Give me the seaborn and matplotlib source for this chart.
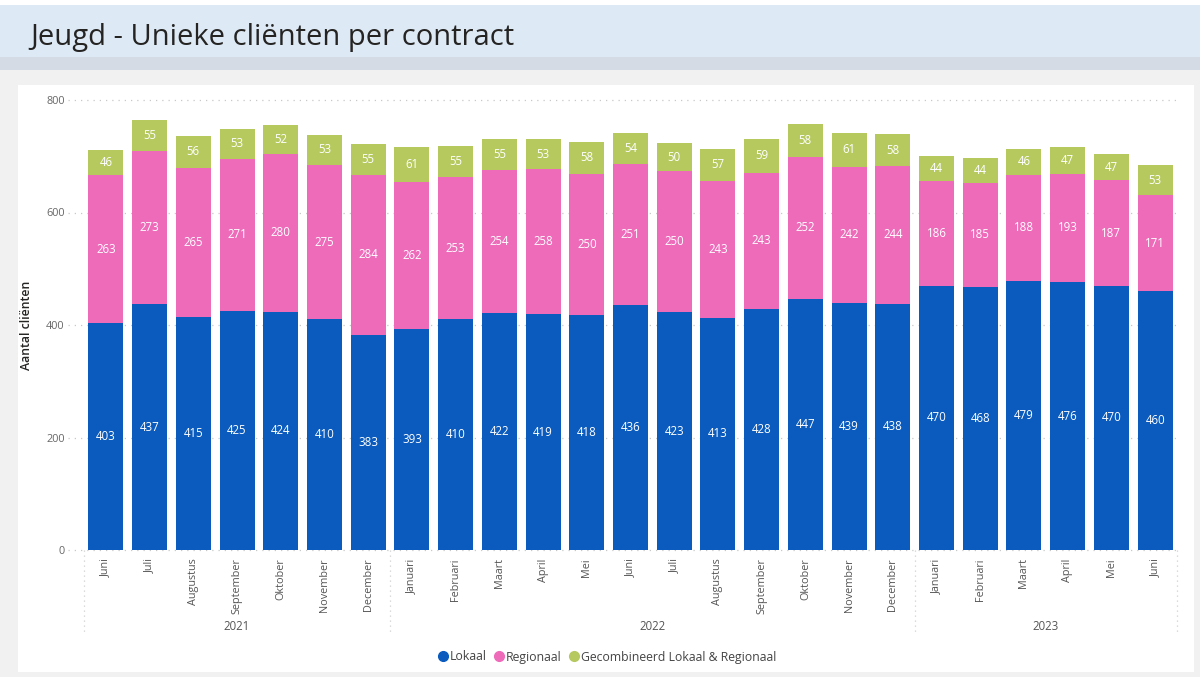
import matplotlib
matplotlib.use("Agg")
import matplotlib.pyplot as plt
import seaborn as sns
import numpy as np
import pandas as pd
from matplotlib.lines import Line2D
from matplotlib.patches import Rectangle

months = ["Juni", "Juli", "Augustus", "September", "Oktober", "November", "December",
          "Januari", "Februari", "Maart", "April", "Mei", "Juni", "Juli", "Augustus",
          "September", "Oktober", "November", "December",
          "Januari", "Februari", "Maart", "April", "Mei", "Juni"]
years = ["2021", "2022", "2023"]
year_counts = [7, 12, 6]

lokaal = [403, 437, 415, 425, 424, 410, 383, 393, 410, 422, 419, 418, 436, 423, 413,
          428, 447, 439, 438, 470, 468, 479, 476, 470, 460]
regionaal = [263, 273, 265, 271, 280, 275, 284, 262, 253, 254, 258, 250, 251, 250, 243,
             243, 252, 242, 244, 186, 185, 188, 193, 187, 171]
gecombineerd = [46, 55, 56, 53, 52, 53, 55, 61, 55, 55, 53, 58, 54, 50, 57,
                59, 58, 61, 58, 44, 44, 46, 47, 47, 53]

series_names = ["Lokaal", "Regionaal", "Gecombineerd Lokaal & Regionaal"]
colors = ["#0a5bbd", "#ee6bba", "#b5c95f"]
yticks = [0, 200, 400, 600, 800]

sns.set_theme(style="white")
plt.rcParams["font.family"] = ["Open Sans", "DejaVu Sans"]

W, H = 1200, 677
fig = plt.figure(figsize=(W / 100, H / 100), dpi=100)
fig.patch.set_facecolor("#f1f1f1")

def px_rect(x0, y0, x1, y1, color):
    fig.patches.append(Rectangle((x0 / W, 1 - y1 / H), (x1 - x0) / W, (y1 - y0) / H,
                                 transform=fig.transFigure, facecolor=color,
                                 edgecolor="none", zorder=-5))

px_rect(0, 0, 1200, 5, "#ffffff")
px_rect(0, 5, 1200, 57, "#dde9f5")
px_rect(0, 57, 1200, 70, "#d4dbe5")
px_rect(18, 85, 1194, 672, "#ffffff")

fig.text(30 / W, 1 - 37 / H, "Jeugd - Unieke cliënten per contract", fontsize=21,
         color="#252423", va="center", ha="left", zorder=5)

ax = fig.add_axes([84 / W, 127 / H, 1093 / W, 450 / H])
ax.set_zorder(5)
ax.set_facecolor("none")

n = len(months)
df = pd.DataFrame({"idx": list(range(n)), "Lokaal": lokaal,
                   "Regionaal": regionaal, "Gecombineerd": gecombineerd})
bottom2 = np.array(lokaal)
bottom3 = np.array(lokaal) + np.array(regionaal)

kw = dict(saturation=1, width=0.8, ax=ax, zorder=3, linewidth=0, edgecolor="none")
sns.barplot(data=df, x="idx", y="Lokaal", color=colors[0], **kw)
sns.barplot(data=df, x="idx", y="Regionaal", color=colors[1], bottom=bottom2, **kw)
sns.barplot(data=df, x="idx", y="Gecombineerd", color=colors[2], bottom=bottom3, **kw)

for cont in ax.containers:
    ax.bar_label(cont, label_type="center", color="white", fontsize=8.3)

ax.set_ylim(0, 800)
ax.set_xlim(-0.5, n - 0.5)
ax.set_yticks(yticks)
ax.set_yticklabels([str(v) for v in yticks], fontsize=7.8, color="#666666")
ax.tick_params(axis="y", length=0, pad=14)
ax.tick_params(axis="x", length=0, pad=6)
ax.set_xticks(range(n))
ax.set_xticklabels(months, rotation=90, fontsize=7.8, color="#555555", va="top")
for s in ax.spines.values():
    s.set_visible(False)
ax.set_xlabel("")
ax.set_ylabel("Aantal cliënten", fontsize=8.8, color="#252423", labelpad=4,
              fontweight="semibold")
ax.yaxis.set_label_coords(-0.047, 0.5)

ax.hlines(yticks, -0.015, 1, transform=ax.get_yaxis_transform(), colors="#c8c8c8",
          linestyles=(0, (1, 4)), linewidth=0.9, clip_on=False, zorder=1)

# year separators and labels
trans = ax.get_xaxis_transform()
bounds = np.concatenate([[0], np.cumsum(year_counts)]) - 0.5
for b in bounds:
    ax.plot([b, b], [0, -0.189], transform=trans, color="#d0d0d0",
            linestyle=(0, (1, 3)), linewidth=0.9, clip_on=False)
starts = bounds[:-1]
for y, s, c in zip(years, starts, year_counts):
    ax.text(s + c / 2, -0.169, y, transform=trans, ha="center", va="center",
            fontsize=8.3, color="#555555")

handles = [Line2D([0], [0], marker="o", linestyle="none", markersize=7,
                  markerfacecolor=c, markeredgecolor=c) for c in colors]
leg = fig.legend(handles, series_names, loc="center", bbox_to_anchor=(605 / W, 1 - 657 / H),
                 ncol=3, frameon=False, fontsize=8.8, handletextpad=-0.15, columnspacing=0.2,
                 labelcolor="#444444", borderaxespad=0, handlelength=1.5)
leg.set_zorder(6)

fig.savefig("out.png", dpi=100, facecolor=fig.get_facecolor())
